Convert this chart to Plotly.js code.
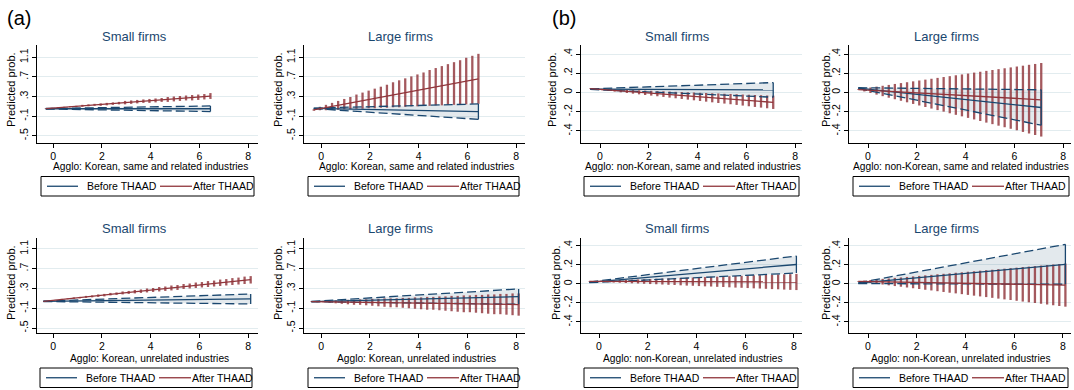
<!DOCTYPE html>
<html><head><meta charset="utf-8">
<script src="https://cdn.plot.ly/plotly-3.0.1.min.js"></script>
<style>html,body{margin:0;padding:0;background:#fff}#chart{width:1074px;height:390px}</style>
</head><body><div id="chart"></div>
<script>
// ---------- category / tick data ----------
const seriesNames = ["Before THAAD", "After THAAD"];
const panelTitles = ["Small firms", "Large firms", "Small firms", "Large firms", "Small firms", "Large firms", "Small firms", "Large firms"];
const xTitles = ["Agglo: Korean, same and related industries", "Agglo: Korean, same and related industries",
  "Agglo: non-Korean, same and related industries", "Agglo: non-Korean, same and related industries",
  "Agglo: Korean, unrelated industries", "Agglo: Korean, unrelated industries",
  "Agglo: non-Korean, unrelated industries", "Agglo: non-Korean, unrelated industries"];
const xTickVals = [0, 2, 4, 6, 8];
const yTickValsK = [-0.5, -0.1, 0.3, 0.7, 1.1];
const yTickTextK = ["-.5", "-.1", ".3", ".7", "1.1"];
const yTickValsN = [-0.4, -0.2, 0, 0.2, 0.4];
const yTickTextN = ["-.4", "-.2", "0", ".2", ".4"];

// ---------- evaluation points (agglomeration values) ----------
const xA = [-0.3,-0.05,0.2,0.45,0.7,0.95,1.2,1.45,1.7,1.95,2.2,2.45,2.7,2.95,3.2,3.45,3.7,3.95,4.2,4.45,4.7,4.95,5.2,5.45,5.7,5.95,6.2,6.45];
const xAc = [-0.3,1,2,3,4,5,6,6.45];
const xB = [-0.4,-0.15,0.1,0.35,0.6,0.85,1.1,1.35,1.6,1.85,2.1,2.35,2.6,2.85,3.1,3.35,3.6,3.85,4.1,4.35,4.6,4.85,5.1,5.35,5.6,5.85,6.1,6.35,6.6,6.85,7.1];
const xBc = [-0.4,1,2,3,4,5,6,7.1];
const xC = [-0.4,-0.15,0.1,0.35,0.6,0.85,1.1,1.35,1.6,1.85,2.1,2.35,2.6,2.85,3.1,3.35,3.6,3.85,4.1,4.35,4.6,4.85,5.1,5.35,5.6,5.85,6.1,6.35,6.6,6.85,7.1,7.35,7.6,7.85,8.1];
const xCc = [-0.4,1,2,3,4,5,6,7,8.1];

// ---------- (a) Korean, same and related industries, small firms ----------
const ksSmallBefore   = [0.05,0.05,0.05,0.05,0.05,0.05,0.05,0.05];
const ksSmallBeforeLo = [0.045,0.035,0.027,0.020,0.012,0.004,-0.004,-0.007];
const ksSmallBeforeHi = [0.055,0.065,0.073,0.080,0.088,0.096,0.104,0.107];
const ksSmallAfter    = [0.052,0.101,0.139,0.176,0.214,0.251,0.289,0.306];
const ksSmallAfterLo  = [0.05,0.05,0.06,0.07,0.08,0.08,0.09,0.10,0.11,0.11,0.12,0.13,0.14,0.14,0.15,0.16,0.17,0.17,0.18,0.19,0.19,0.20,0.21,0.22,0.22,0.23,0.24,0.25];
const ksSmallAfterHi  = [0.06,0.07,0.08,0.09,0.10,0.11,0.13,0.14,0.15,0.16,0.17,0.18,0.19,0.21,0.22,0.23,0.24,0.25,0.26,0.27,0.29,0.30,0.31,0.32,0.33,0.34,0.35,0.37];

// ---------- (a) Korean, same and related industries, large firms ----------
const ksLargeBefore   = [0.059,0.046,0.036,0.026,0.016,0.006,-0.004,-0.009];
const ksLargeBeforeLo = [0.054,0.012,-0.021,-0.053,-0.086,-0.118,-0.151,-0.166];
const ksLargeBeforeHi = [0.064,0.080,0.093,0.105,0.118,0.130,0.143,0.148];
const ksLargeAfter    = [0.028,0.150,0.243,0.337,0.431,0.525,0.619,0.661];
const ksLargeAfterLo  = [0.01,0.02,0.02,0.03,0.03,0.04,0.04,0.05,0.05,0.06,0.06,0.07,0.07,0.08,0.08,0.09,0.10,0.10,0.11,0.11,0.12,0.12,0.13,0.13,0.14,0.14,0.15,0.15];
const ksLargeAfterHi  = [0.04,0.09,0.13,0.17,0.21,0.25,0.29,0.34,0.38,0.42,0.46,0.50,0.54,0.59,0.63,0.67,0.71,0.75,0.79,0.84,0.88,0.92,0.96,1.00,1.04,1.09,1.13,1.17];

// ---------- (b) non-Korean, same and related industries, small firms ----------
const nksSmallBefore   = [0.035,0.033,0.032,0.031,0.030,0.029,0.028,0.027];
const nksSmallBeforeLo = [0.032,0.016,0.006,-0.005,-0.016,-0.026,-0.037,-0.049];
const nksSmallBeforeHi = [0.038,0.050,0.058,0.067,0.076,0.084,0.093,0.103];
const nksSmallAfter    = [0.040,0.013,-0.006,-0.024,-0.043,-0.062,-0.081,-0.102];
const nksSmallAfterLo  = [0.037,0.030,0.023,0.016,0.009,0.002,-0.005,-0.012,-0.019,-0.026,-0.032,-0.039,-0.046,-0.053,-0.060,-0.067,-0.074,-0.081,-0.088,-0.095,-0.102,-0.109,-0.115,-0.122,-0.129,-0.136,-0.143,-0.150,-0.157,-0.164,-0.171];
const nksSmallAfterHi  = [0.043,0.040,0.038,0.035,0.033,0.030,0.028,0.025,0.023,0.020,0.018,0.015,0.013,0.010,0.007,0.005,0.002,0.000,-0.003,-0.005,-0.008,-0.010,-0.013,-0.015,-0.018,-0.021,-0.023,-0.026,-0.028,-0.031,-0.033];

// ---------- (b) non-Korean, same and related industries, large firms ----------
const nksLargeBefore   = [0.046,0.008,-0.019,-0.046,-0.073,-0.100,-0.127,-0.156];
const nksLargeBeforeLo = [0.042,-0.030,-0.081,-0.132,-0.183,-0.234,-0.285,-0.340];
const nksLargeBeforeHi = [0.050,0.046,0.043,0.040,0.037,0.034,0.031,0.028];
const nksLargeAfter    = [0.030,0.011,-0.004,-0.018,-0.032,-0.046,-0.060,-0.076];
const nksLargeAfterLo  = [0.027,0.011,-0.005,-0.022,-0.038,-0.054,-0.070,-0.086,-0.102,-0.119,-0.135,-0.151,-0.167,-0.183,-0.199,-0.216,-0.232,-0.248,-0.264,-0.280,-0.296,-0.313,-0.329,-0.345,-0.361,-0.377,-0.393,-0.410,-0.426,-0.442,-0.458];
const nksLargeAfterHi  = [0.034,0.043,0.052,0.061,0.070,0.079,0.089,0.098,0.107,0.116,0.125,0.134,0.143,0.152,0.161,0.170,0.179,0.188,0.197,0.207,0.216,0.225,0.234,0.243,0.252,0.261,0.270,0.279,0.288,0.297,0.307];

// ---------- (a) Korean, unrelated industries, small firms ----------
const kuSmallBefore   = [0.040,0.048,0.053,0.059,0.065,0.070,0.076,0.082,0.088];
const kuSmallBeforeLo = [0.037,0.029,0.022,0.017,0.011,0.005,-0.001,-0.006,-0.013];
const kuSmallBeforeHi = [0.043,0.067,0.084,0.101,0.119,0.135,0.153,0.170,0.189];
const kuSmallAfter    = [0.040,0.112,0.164,0.215,0.267,0.318,0.370,0.421,0.478];
const kuSmallAfterLo  = [0.04,0.05,0.06,0.07,0.08,0.09,0.10,0.11,0.12,0.13,0.14,0.16,0.17,0.18,0.19,0.20,0.21,0.22,0.23,0.24,0.25,0.26,0.27,0.29,0.30,0.31,0.32,0.33,0.34,0.35,0.36,0.37,0.38,0.39,0.40];
const kuSmallAfterHi  = [0.04,0.06,0.07,0.09,0.10,0.12,0.13,0.15,0.16,0.18,0.19,0.21,0.22,0.24,0.25,0.27,0.28,0.30,0.31,0.33,0.34,0.36,0.37,0.39,0.40,0.42,0.43,0.45,0.46,0.48,0.49,0.51,0.52,0.54,0.55];

// ---------- (a) Korean, unrelated industries, large firms ----------
const kuLargeBefore   = [0.035,0.051,0.063,0.075,0.087,0.099,0.110,0.122,0.135];
const kuLargeBeforeLo = [0.032,0.023,0.017,0.011,0.005,-0.001,-0.008,-0.013,-0.020];
const kuLargeBeforeHi = [0.038,0.079,0.109,0.139,0.169,0.199,0.228,0.257,0.290];
const kuLargeAfter    = [0.035,0.025,0.018,0.011,0.004,-0.003,-0.010,-0.017,-0.025];
const kuLargeAfterLo  = [0.03,0.02,0.02,0.01,0.00,-0.01,-0.02,-0.03,-0.03,-0.04,-0.05,-0.06,-0.07,-0.08,-0.08,-0.09,-0.10,-0.11,-0.12,-0.13,-0.13,-0.14,-0.15,-0.16,-0.17,-0.18,-0.18,-0.19,-0.20,-0.21,-0.22,-0.22,-0.23,-0.24,-0.25];
const kuLargeAfterHi  = [0.04,0.04,0.05,0.05,0.06,0.06,0.07,0.07,0.08,0.08,0.09,0.09,0.10,0.10,0.10,0.11,0.11,0.12,0.12,0.13,0.13,0.14,0.14,0.15,0.15,0.16,0.16,0.17,0.17,0.18,0.18,0.19,0.19,0.20,0.20];

// ---------- (b) non-Korean, unrelated industries, small firms ----------
const nkuSmallBefore   = [0.017,0.048,0.070,0.092,0.114,0.136,0.158,0.181,0.205];
const nkuSmallBeforeLo = [0.014,0.031,0.043,0.054,0.066,0.078,0.090,0.103,0.115];
const nkuSmallBeforeHi = [0.020,0.065,0.097,0.130,0.162,0.194,0.226,0.259,0.295];
const nkuSmallAfter    = [0.028,0.027,0.026,0.025,0.024,0.024,0.023,0.022,0.021];
const nkuSmallAfterLo  = [0.026,0.023,0.021,0.018,0.015,0.013,0.010,0.007,0.005,0.002,-0.001,-0.003,-0.006,-0.009,-0.011,-0.014,-0.017,-0.019,-0.022,-0.025,-0.027,-0.030,-0.032,-0.035,-0.038,-0.040,-0.043,-0.046,-0.048,-0.051,-0.054,-0.056,-0.059,-0.062,-0.064];
const nkuSmallAfterHi  = [0.030,0.032,0.035,0.037,0.039,0.041,0.044,0.046,0.048,0.050,0.052,0.055,0.057,0.059,0.061,0.064,0.066,0.068,0.070,0.073,0.075,0.077,0.079,0.082,0.084,0.086,0.088,0.091,0.093,0.095,0.097,0.100,0.102,0.104,0.106];

// ---------- (b) non-Korean, unrelated industries, large firms ----------
const nkuLargeBefore   = [0.008,0.041,0.064,0.088,0.111,0.134,0.158,0.181,0.207];
const nkuLargeBeforeLo = [0.004,0.003,0.002,0.002,0.001,-0.001,-0.001,-0.002,-0.003];
const nkuLargeBeforeHi = [0.012,0.079,0.126,0.174,0.221,0.269,0.317,0.364,0.417];
const nkuLargeAfter    = [0.028,0.021,0.017,0.012,0.007,0.002,-0.002,-0.007,-0.012];
const nkuLargeAfterLo  = [0.025,0.017,0.010,0.002,-0.006,-0.014,-0.022,-0.029,-0.037,-0.045,-0.053,-0.061,-0.068,-0.076,-0.084,-0.092,-0.099,-0.107,-0.115,-0.123,-0.131,-0.138,-0.146,-0.154,-0.162,-0.169,-0.177,-0.185,-0.193,-0.200,-0.208,-0.216,-0.224,-0.232,-0.239];
const nkuLargeAfterHi  = [0.031,0.036,0.042,0.047,0.053,0.058,0.064,0.069,0.074,0.080,0.085,0.091,0.096,0.102,0.107,0.112,0.118,0.123,0.129,0.134,0.140,0.145,0.150,0.156,0.161,0.167,0.172,0.178,0.183,0.188,0.194,0.199,0.205,0.210,0.215];

// ---------- panel wiring ----------
const panels = [
  {xd: xA, xc: xAc, bm: ksSmallBefore, bl: ksSmallBeforeLo, bh: ksSmallBeforeHi, am: ksSmallAfter, al: ksSmallAfterLo, ah: ksSmallAfterHi, k: true},
  {xd: xA, xc: xAc, bm: ksLargeBefore, bl: ksLargeBeforeLo, bh: ksLargeBeforeHi, am: ksLargeAfter, al: ksLargeAfterLo, ah: ksLargeAfterHi, k: true},
  {xd: xB, xc: xBc, bm: nksSmallBefore, bl: nksSmallBeforeLo, bh: nksSmallBeforeHi, am: nksSmallAfter, al: nksSmallAfterLo, ah: nksSmallAfterHi, k: false},
  {xd: xB, xc: xBc, bm: nksLargeBefore, bl: nksLargeBeforeLo, bh: nksLargeBeforeHi, am: nksLargeAfter, al: nksLargeAfterLo, ah: nksLargeAfterHi, k: false},
  {xd: xC, xc: xCc, bm: kuSmallBefore, bl: kuSmallBeforeLo, bh: kuSmallBeforeHi, am: kuSmallAfter, al: kuSmallAfterLo, ah: kuSmallAfterHi, k: true},
  {xd: xC, xc: xCc, bm: kuLargeBefore, bl: kuLargeBeforeLo, bh: kuLargeBeforeHi, am: kuLargeAfter, al: kuLargeAfterLo, ah: kuLargeAfterHi, k: true},
  {xd: xC, xc: xCc, bm: nkuSmallBefore, bl: nkuSmallBeforeLo, bh: nkuSmallBeforeHi, am: nkuSmallAfter, al: nkuSmallAfterLo, ah: nkuSmallAfterHi, k: false},
  {xd: xC, xc: xCc, bm: nkuLargeBefore, bl: nkuLargeBeforeLo, bh: nkuLargeBeforeHi, am: nkuLargeAfter, al: nkuLargeAfterLo, ah: nkuLargeAfterHi, k: false}
];

// ---------- layout geometry (pixels) ----------
const W = 1074, H = 390;
const boxes = [ // plot area: left, right, top, bottom ; x range ; y range
  {l: 37, r: 258, t: 45, b: 143, xr: [-0.66, 8.4], yr: [-0.648, 1.35]},
  {l: 304, r: 525, t: 45, b: 143, xr: [-0.70, 8.36], yr: [-0.648, 1.35]},
  {l: 581, r: 802, t: 45, b: 143, xr: [-0.78, 8.28], yr: [-0.525, 0.494]},
  {l: 849, r: 1071, t: 45, b: 143, xr: [-0.78, 8.32], yr: [-0.525, 0.494]},
  {l: 37, r: 258, t: 238, b: 333, xr: [-0.66, 8.4], yr: [-0.6, 1.32]},
  {l: 304, r: 525, t: 238, b: 333, xr: [-0.70, 8.36], yr: [-0.6, 1.32]},
  {l: 581, r: 802, t: 238, b: 333, xr: [-0.74, 8.33], yr: [-0.516, 0.484]},
  {l: 849, r: 1071, t: 238, b: 333, xr: [-0.78, 8.33], yr: [-0.516, 0.484]}
];
const titleX = [134, 401, 678, 947, 134, 401, 678, 947];
const xTitleX = [150, 416, 693, 961, 149, 416, 693, 961];
const yTitleX = [11, 278, 552, 826, 11, 278, 556, 826];
// legend boxes: left, right, top, bottom
const legendBoxes = [[41, 254, 176.5, 196], [308, 519, 176.5, 196], [584, 799, 176.5, 196], [853, 1069, 176.5, 196],
  [40, 252, 368, 387.5], [308, 518, 368, 387.5], [584, 798, 368, 387.5], [853, 1068, 368, 387.5]];

const NAVY = '#1a476f', RED = '#90353b';
const FONT = 'Liberation Sans, Arial, Helvetica, sans-serif';
const px = v => v / W, py = v => 1 - v / H;

const traces = [];
const layout = {
  width: W, height: H, margin: {l: 0, r: 0, t: 0, b: 0},
  paper_bgcolor: '#fff', plot_bgcolor: '#fff',
  font: {family: FONT, size: 10, color: '#000'},
  showlegend: false, annotations: [], shapes: [], hovermode: false
};

panels.forEach((p, i) => {
  const s = i === 0 ? '' : String(i + 1);
  const xa = 'x' + s, ya = 'y' + s;
  const last = p.xc.length - 1;
  // CI band for "Before"
  traces.push({type: 'scatter', mode: 'lines', xaxis: xa, yaxis: ya,
    x: p.xc.concat(p.xc.slice().reverse()), y: p.bh.concat(p.bl.slice().reverse()),
    fill: 'toself', fillcolor: 'rgba(26,71,111,0.12)', line: {width: 0}, hoverinfo: 'skip'});
  // CI spikes for "After"
  const sx = [], sy = [];
  p.xd.forEach((x, j) => { sx.push(x, x, null); sy.push(p.al[j], p.ah[j], null); });
  traces.push({type: 'scatter', mode: 'lines', xaxis: xa, yaxis: ya, x: sx, y: sy,
    line: {color: 'rgba(144,53,59,0.82)', width: 2.3}, hoverinfo: 'skip'});
  // dashed CI bounds for "Before"
  traces.push({type: 'scatter', mode: 'lines', xaxis: xa, yaxis: ya, x: p.xc, y: p.bh,
    line: {color: NAVY, width: 1.3, dash: '9px,4px'}, hoverinfo: 'skip'});
  traces.push({type: 'scatter', mode: 'lines', xaxis: xa, yaxis: ya, x: p.xc, y: p.bl,
    line: {color: NAVY, width: 1.3, dash: '9px,4px'}, hoverinfo: 'skip'});
  traces.push({type: 'scatter', mode: 'lines', xaxis: xa, yaxis: ya,
    x: [p.xc[last], p.xc[last]], y: [p.bl[last], p.bh[last]],
    line: {color: NAVY, width: 1.3}, hoverinfo: 'skip'});
  // means
  traces.push({type: 'scatter', mode: 'lines', xaxis: xa, yaxis: ya, x: p.xc, y: p.bm,
    name: seriesNames[0], line: {color: NAVY, width: 1.3}});
  traces.push({type: 'scatter', mode: 'lines', xaxis: xa, yaxis: ya, x: p.xc, y: p.am,
    name: seriesNames[1], line: {color: RED, width: 1.3}});

  const b = boxes[i];
  layout['xaxis' + s] = {domain: [px(b.l), px(b.r)], range: b.xr, anchor: ya,
    tickvals: xTickVals, ticks: 'outside', ticklen: 4, tickcolor: '#000', tickwidth: 1, ticklabelstandoff: -1,
    showline: true, linecolor: '#000', linewidth: 1, showgrid: false, zeroline: false,
    tickfont: {family: FONT, size: 10.5, color: '#000'}, fixedrange: true};
  layout['yaxis' + s] = {domain: [py(b.b), py(b.t)], range: b.yr, anchor: xa,
    tickvals: p.k ? yTickValsK : yTickValsN, ticktext: p.k ? yTickTextK : yTickTextN,
    tickangle: -90, ticks: 'outside', ticklen: 4, tickcolor: '#000', tickwidth: 1,
    showline: true, linecolor: '#000', linewidth: 1, showgrid: true, gridcolor: '#e2ecef', gridwidth: 1,
    zeroline: false, tickfont: {family: FONT, size: 10.5, color: '#000'}, fixedrange: true};

  // legend (Stata-style box under each panel)
  const [L, R, T, B] = legendBoxes[i];
  const cy = py((T + B) / 2);
  layout.shapes.push({type: 'rect', xref: 'paper', yref: 'paper', x0: px(L), x1: px(R), y0: py(B), y1: py(T),
    line: {color: '#000', width: 1}, fillcolor: '#fff', layer: 'above'});
  layout.shapes.push({type: 'line', xref: 'paper', yref: 'paper', x0: px(L + 6), x1: px(L + 37), y0: cy, y1: cy,
    line: {color: NAVY, width: 1.3}, layer: 'above'});
  layout.shapes.push({type: 'line', xref: 'paper', yref: 'paper', x0: px(L + 119), x1: px(L + 151), y0: cy, y1: cy,
    line: {color: RED, width: 1.3}, layer: 'above'});
  layout.annotations.push({text: seriesNames[0], xref: 'paper', yref: 'paper', x: px(L + 44), y: cy,
    xanchor: 'left', yanchor: 'middle', showarrow: false, font: {family: FONT, size: 10.5, color: '#000'}});
  layout.annotations.push({text: seriesNames[1], xref: 'paper', yref: 'paper', x: px(L + 150), y: cy,
    xanchor: 'left', yanchor: 'middle', showarrow: false, font: {family: FONT, size: 10.5, color: '#000'}});

  const rowTitleY = i < 4 ? 36 : 228;
  layout.annotations.push({text: panelTitles[i], xref: 'paper', yref: 'paper', x: px(titleX[i]), y: py(rowTitleY),
    xanchor: 'center', yanchor: 'middle', showarrow: false, font: {family: FONT, size: 13, color: NAVY}});
  layout.annotations.push({text: xTitles[i], xref: 'paper', yref: 'paper', x: px(xTitleX[i]), y: py(i < 4 ? 166.5 : 358),
    xanchor: 'center', yanchor: 'middle', showarrow: false, font: {family: FONT, size: 10.2, color: '#000'}});
  layout.annotations.push({text: 'Predicted prob.', xref: 'paper', yref: 'paper', x: px(yTitleX[i]), y: py(i < 4 ? 90 : 283),
    xanchor: 'center', yanchor: 'middle', textangle: -90, showarrow: false, font: {family: FONT, size: 11, color: '#000'}});
});
layout.annotations.push({text: '(a)', xref: 'paper', yref: 'paper', x: px(19), y: py(18), xanchor: 'center', yanchor: 'middle',
  showarrow: false, font: {family: FONT, size: 20, color: '#000'}});
layout.annotations.push({text: '(b)', xref: 'paper', yref: 'paper', x: px(564), y: py(18), xanchor: 'center', yanchor: 'middle',
  showarrow: false, font: {family: FONT, size: 20, color: '#000'}});

Plotly.newPlot('chart', traces, layout, {displayModeBar: false, staticPlot: true});
</script>
</body></html>
